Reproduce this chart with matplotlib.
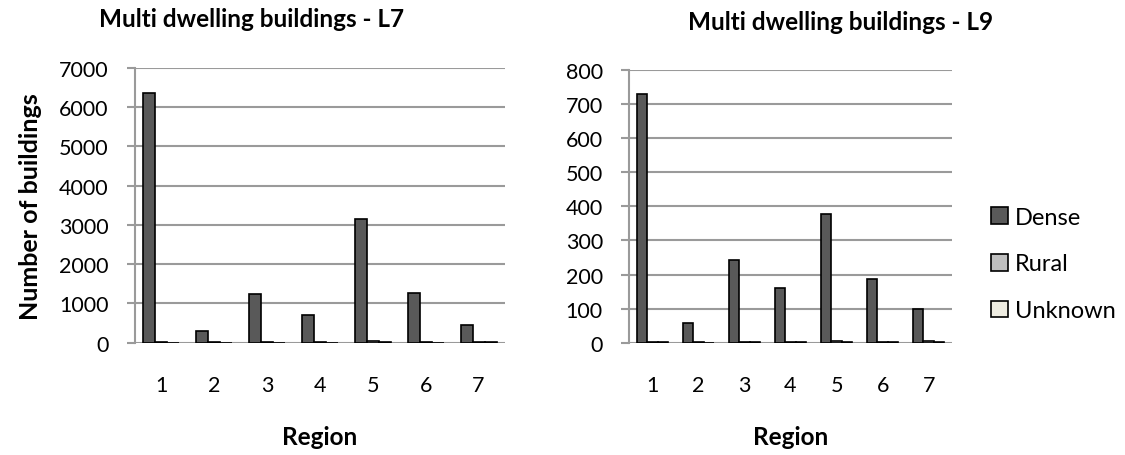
import matplotlib
matplotlib.use("Agg")
import matplotlib.pyplot as plt
import numpy as np
from matplotlib.patches import Patch

plt.rcParams['font.family'] = ['Lato', 'DejaVu Sans']

regions = ['1', '2', '3', '4', '5', '6', '7']
series_names = ['Dense', 'Rural', 'Unknown']

l7_dense = [6360, 300, 1240, 705, 3150, 1260, 445]
l7_rural = [20, 10, 15, 10, 40, 15, 30]
l7_unknown = [5, 3, 5, 3, 10, 5, 10]

l9_dense = [730, 58, 242, 160, 377, 188, 100]
l9_rural = [2, 1, 3, 2, 4, 2, 5]
l9_unknown = [1, 0, 1, 1, 1, 1, 1]

colors = ['#595959', '#bfbfbf', '#eeece1']
grid_c = '#9a9a9a'

W, H = 1125, 456
fig = plt.figure(figsize=(W / 100, H / 100), dpi=100)

def px_axes(x0, y0, x1, y1):
    return fig.add_axes([x0 / W, 1 - y1 / H, (x1 - x0) / W, (y1 - y0) / H])

ax1 = px_axes(135, 69, 505, 343.7)
ax2 = px_axes(629.3, 71, 951.7, 343.7)

def draw(ax, data, ymax, step):
    x = np.arange(1, len(regions) + 1)
    bw = 0.227
    for i, (vals, c) in enumerate(zip(data, colors)):
        ax.bar(x + (i - 1) * bw, vals, width=bw, color=c, edgecolor='black',
               linewidth=1.2, zorder=3)
    ax.set_xlim(0.5, len(regions) + 0.5)
    ax.set_ylim(0, ymax)
    ax.set_yticks(np.arange(0, ymax + 1, step))
    ax.set_xticks(x)
    ax.set_xticklabels(regions)
    ax.yaxis.grid(True, color=grid_c, linewidth=1.5, zorder=0)
    for s in ['top', 'right', 'bottom']:
        ax.spines[s].set_visible(False)
    ax.spines['left'].set_color(grid_c)
    ax.spines['left'].set_linewidth(1.5)
    ax.tick_params(axis='y', length=6, width=1.5, color=grid_c, pad=13,
                   labelsize=15.5)
    ax.tick_params(axis='x', length=0, pad=23, labelsize=15.5)
    ax.set_xlabel('Region', fontsize=17.5, fontweight='bold', labelpad=22)

draw(ax1, [l7_dense, l7_rural, l7_unknown], 7000, 1000)
draw(ax2, [l9_dense, l9_rural, l9_unknown], 800, 100)

ax1.set_ylabel('Number of buildings', fontsize=18, fontweight='bold', labelpad=12)

fig.text(252 / W, 1 - 27 / H, 'Multi dwelling buildings - L7', ha='center',
         va='baseline', fontsize=17.5, fontweight='bold')
fig.text(841 / W, 1 - 30 / H, 'Multi dwelling buildings - L9', ha='center',
         va='baseline', fontsize=17.5, fontweight='bold')

handles = [Patch(facecolor=c, edgecolor='black', linewidth=1.2) for c in colors]
fig.legend(handles, series_names, loc='center left',
           bbox_to_anchor=(991 / W, 1 - 265 / H), frameon=False, fontsize=17,
           handlelength=0.7, handleheight=0.7, handletextpad=0.3,
           labelspacing=1.1, borderaxespad=0, borderpad=0)

fig.savefig('out.png', dpi=100)
